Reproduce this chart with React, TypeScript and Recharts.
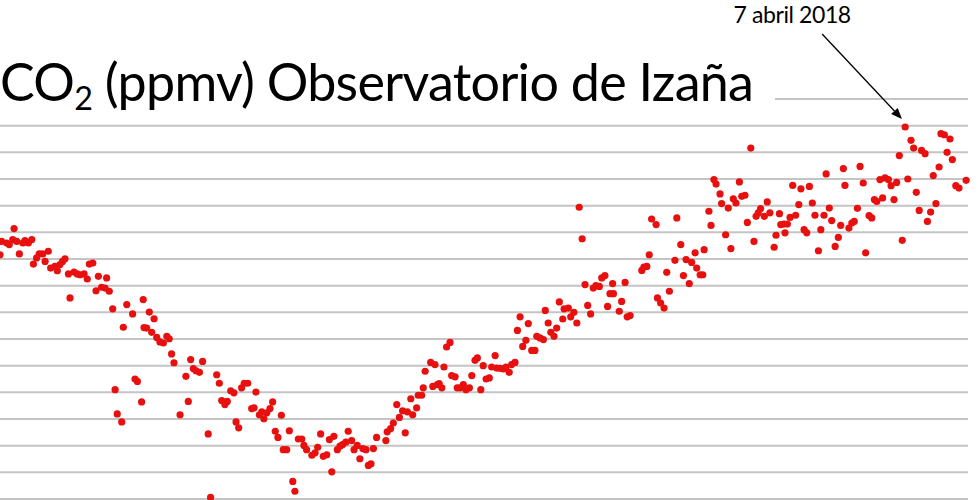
import { CartesianGrid, ReferenceLine, Scatter, ScatterChart, XAxis, YAxis } from "recharts";

// CO2 diario en Izaña, días contados desde el 1 de mayo de 2017
const dias = [
  0.0, 0.6, 2.5, 3.5, 4.8, 5.3, 6.3, 7.3, 8.6, 9.4, 10.7, 12.0, 12.6, 13.8, 14.8, 16.1, 17.0, 18.2, 19.1, 20.7,
  21.6, 22.6, 23.6, 24.5, 25.8, 26.4, 27.9, 29.1, 30.2, 31.7, 32.9, 33.7, 35.0, 36.2, 37.1, 38.3, 39.6, 40.2, 41.2,
  42.5, 43.4, 44.2, 45.9, 46.5, 47.8, 50.0, 50.9, 51.8, 53.4, 54.0, 54.3,
  55.3, 56.3, 57.2, 58.1, 59.1, 60.3, 61.6, 62.9, 63.8, 64.7, 65.6, 67.9, 70.1, 71.0, 71.9, 72.9, 73.9, 75.2, 76.4,
  78.5, 79.4, 81.7, 82.7, 83.6, 84.8, 85.7, 87.0, 88.2, 89.0, 90.0, 91.1, 92.1, 93.4, 94.9, 95.8, 96.5, 97.8, 98.7,
  99.5, 100.6, 101.8, 102.8, 103.8, 104.8, 106.1, 106.8,
  108.1, 109.1, 110.4, 111.2, 112.5, 113.8, 114.6, 115.6, 117.6, 118.8, 119.8, 120.9, 121.9, 123.2, 124.2, 125.1,
  125.9, 127.2, 128.2, 129.2, 130.4, 131.3, 132.6, 133.5, 134.7, 135.7, 136.8, 138.0, 138.9, 139.9, 140.8, 142.0,
  145.5, 146.0, 147.3, 148.3, 149.6, 150.6, 151.8, 152.8, 153.6, 154.9, 155.6, 157.1, 157.7, 159.0, 159.6, 160.3,
  162.4, 163.2, 164.0, 164.9, 165.6, 166.6, 167.4, 168.4, 169.7, 170.3, 171.6, 172.4, 173.5, 174.7, 175.7, 177.0,
  177.9, 179.1, 180.0, 181.3, 182.2, 183.3, 184.5, 185.4, 186.7, 187.3, 188.5, 189.8, 190.8, 192.0, 192.9, 194.2,
  195.1, 196.1, 197.1, 198.3, 199.2, 200.5, 201.7, 202.4, 203.6, 204.9, 205.6, 206.7, 207.7, 208.9, 209.9, 210.9,
  212.2, 212.7,
  214.3, 215.2, 216.4, 217.5, 218.4, 219.5, 220.6, 221.6, 222.7, 223.7, 224.7, 226.0, 226.9, 228.1, 229.1, 230.0,
  231.0, 231.3, 233.5, 234.4, 235.7, 236.5, 237.6, 242.0, 242.8, 243.9, 244.8, 245.7, 247.4, 247.9, 249.1, 250.4,
  251.4, 252.4, 254.5, 255.2, 256.7, 257.7, 258.7, 259.9, 260.8, 262.1, 262.7, 264.0, 265.0, 265.5,
  267.3, 268.1, 269.2, 270.0, 271.5, 272.1, 273.6, 274.6, 275.6, 276.5, 277.5, 278.8, 279.7, 280.9, 281.8, 283.1,
  284.3, 285.1, 285.9, 286.8, 288.2, 289.3, 290.3, 291.9, 292.6, 293.9, 294.4, 295.6, 296.0, 296.9, 297.9, 298.9,
  300.0, 301.2, 302.0, 303.2, 304.2, 305.2, 306.3, 307.3, 308.6, 309.5, 310.7, 311.5, 312.7, 313.6, 314.9, 316.1,
  317.0, 318.0, 318.6,
  320.1, 321.2, 322.1, 323.3, 324.3, 325.5, 326.4, 327.7, 328.7, 329.7, 330.6, 331.8, 332.8, 333.7, 335.0, 336.0,
  337.1, 338.1, 339.1, 340.2, 341.3, 342.3, 343.5, 344.5, 345.5, 346.6, 347.5, 348.8, 349.7, 350.9, 351.9, 352.9,
  354.1, 354.8, 356.1, 357.1, 358.2, 359.1, 360.4, 361.6, 364.3,
];

const co2 = [
  409.16, 409.66, 409.6, 409.54, 409.73, 410.14, 409.66, 409.19, 409.6, 409.69, 409.6, 409.73, 408.81, 409.04, 409.19,
  409.19, 408.91, 409.29, 408.66, 408.72, 408.56, 408.79, 408.91, 409.01, 408.44, 407.54, 408.51, 408.44, 408.41,
  408.44, 408.25, 408.81, 408.85, 407.81, 408.35, 407.94, 407.91, 408.29, 407.79, 407.13, 404.1, 403.19, 402.89,
  406.44, 407.29, 406.94, 404.5, 404.41, 403.64, 407.48, 406.43,
  406.41, 407.01, 406.25, 406.76, 406.06, 405.89, 405.85, 406.1, 406.01, 405.44, 405.11, 403.16, 404.6, 403.66,
  405.23, 404.89, 404.81, 404.75, 405.16, 402.44, 400.06, 404.66, 404.34, 403.69, 403.54, 403.66, 404.06, 403.98,
  402.89, 402.67, 404.17, 404.34, 404.34, 403.39, 403.42, 404.01, 403.16, 403.27, 403.01, 403.23, 403.39, 403.64,
  402.54, 402.31, 403.14, 401.85,
  401.85, 402.56, 400.66, 400.29, 402.25, 402.25, 402.01, 401.85, 401.64, 401.73, 401.94, 402.44, 401.6, 401.66,
  402.23, 401.02, 402.35, 401.85, 401.98, 402.04, 402.13, 402.54, 402.19, 401.85, 402.01, 401.51, 401.89, 401.85,
  401.26, 401.32, 401.89, 402.31, 402.19, 402.52, 402.64, 402.85, 403.54, 403.06, 403.31, 402.48, 403.27, 403.76,
  403.16, 403.42, 403.89, 403.89, 404.17, 404.79,
  405.12, 404.22, 405.04, 404.29, 404.33, 404.17, 404.95, 405.7, 405.87, 404.63, 404.58, 404.17, 404.17, 404.29,
  404.1, 404.17, 404.63, 405.2, 405.29, 404.1, 405.0, 404.5, 404.54, 404.95, 405.38, 404.91, 404.9, 404.88, 404.95,
  404.75, 405.04, 405.12, 406.32, 406.83, 405.72, 405.95, 406.58, 405.57, 405.57, 406.1, 406.04, 405.98, 407.07,
  406.6, 406.25, 406.1, 406.41, 407.39, 406.75, 407.13,
  407.16, 406.83, 407.0, 406.6, 410.94, 409.76, 408.04, 407.26, 406.94, 407.91, 408.0, 407.97, 408.29, 408.38,
  407.22, 407.7, 408.08, 407.7, 407.04, 407.41, 408.12, 406.83, 406.88, 408.57, 408.7, 408.72, 409.16, 410.5, 410.29,
  407.54, 407.35, 407.16, 408.5, 407.79, 408.95, 410.54, 409.54, 408.38, 408.98, 408.08, 408.87, 409.23, 408.66,
  408.41, 408.41, 409.35,
  410.79, 410.26, 411.98, 411.81, 411.44, 411.08, 409.91, 410.91, 409.39, 411.26, 411.1, 411.89, 411.35, 411.39,
  410.37, 413.16, 409.66, 410.6, 410.73, 410.89, 410.6, 411.14, 410.73, 409.44, 409.89, 410.7, 410.29, 410.31, 409.98,
  410.31, 410.56, 411.76, 410.64, 411.04, 411.63, 410.1, 409.98, 411.72, 411.1, 410.64, 409.31, 410.1, 410.64, 412.19,
  410.91, 410.44, 409.47, 409.81, 410.26, 412.39, 411.76,
  410.16, 410.35, 410.41, 410.9, 412.47, 411.85, 409.23, 410.63, 410.54, 411.23, 411.16, 411.98, 411.29, 412.04,
  411.98, 411.75, 411.23, 411.87, 412.88, 409.7, 413.95, 412.0, 413.45, 413.16, 411.5, 410.82, 413.07, 412.95, 410.41,
  410.76, 412.13, 411.08, 412.45, 413.7, 413.66, 413.0, 413.5, 412.73, 411.75, 411.66, 411.95,
];

const marcasCo2 = [400, 401, 402, 403, 404, 405, 406, 407, 408, 409, 410, 411, 412, 413, 414, 415];

const fechaMarcada = "7 abril 2018";
const flechaInicio = { dia: 310, co2: 417.44 };
const flechaFin = { dia: 340.1, co2: 414.25 };

const puntos = dias.map((dia, i) => ({ dia, co2: co2[i] }));

function Punto(props: any) {
  const { cx, cy } = props;
  if (cx == null || cy == null) return null;
  return <circle cx={cx} cy={cy} r={3.6} fill="#e8100f" />;
}

function Flecha(props: any) {
  const { x1, y1, x2, y2 } = props;
  if (x1 == null || y2 == null) return null;
  const dx = x2 - x1;
  const dy = y2 - y1;
  const len = Math.sqrt(dx * dx + dy * dy);
  const ux = dx / len;
  const uy = dy / len;
  const bx = x2 - ux * 11;
  const by = y2 - uy * 11;
  return (
    <g>
      <line x1={x1} y1={y1} x2={bx} y2={by} stroke="#000" strokeWidth={1.3} />
      <polygon
        points={`${x2},${y2} ${bx - uy * 4.5},${by + ux * 4.5} ${bx + uy * 4.5},${by - ux * 4.5}`}
        fill="#000"
      />
      <text x={x1 - 30} y={y1 - 11} textAnchor="middle" fontSize={23} fontFamily="Lato, sans-serif" fill="#000" letterSpacing={-0.4}>
        {fechaMarcada}
      </text>
    </g>
  );
}

export default function App() {
  return (
    <div style={{ position: "absolute", left: 0, top: 0, width: 980, height: 500, background: "#fff" }}>
      <ScatterChart width={980} height={500} margin={{ top: 99, right: 12, bottom: 1, left: 0 }}>
        <CartesianGrid vertical={false} stroke="#c4c4c4" strokeWidth={2} />
        <XAxis type="number" dataKey="dia" domain={[0, 365]} hide />
        <YAxis type="number" dataKey="co2" domain={[400, 415]} ticks={marcasCo2} hide />
        <Scatter data={puntos} shape={Punto} isAnimationActive={false} />
        <ReferenceLine
          segment={[
            { x: flechaInicio.dia, y: flechaInicio.co2 },
            { x: flechaFin.dia, y: flechaFin.co2 },
          ]}
          ifOverflow="visible"
          shape={Flecha}
        />
      </ScatterChart>
      <div
        style={{
          position: "absolute",
          left: 0,
          top: 55,
          width: 775,
          height: 52,
          background: "#fff",
          fontFamily: "Lato, sans-serif",
          fontSize: 52,
          lineHeight: "52px",
          letterSpacing: -0.7,
          color: "#000",
          whiteSpace: "nowrap",
        }}
      >
        CO<span style={{ fontSize: "0.62em", position: "relative", top: "0.28em" }}>2</span> (ppmv) Observatorio de
        Izaña
      </div>
    </div>
  );
}
